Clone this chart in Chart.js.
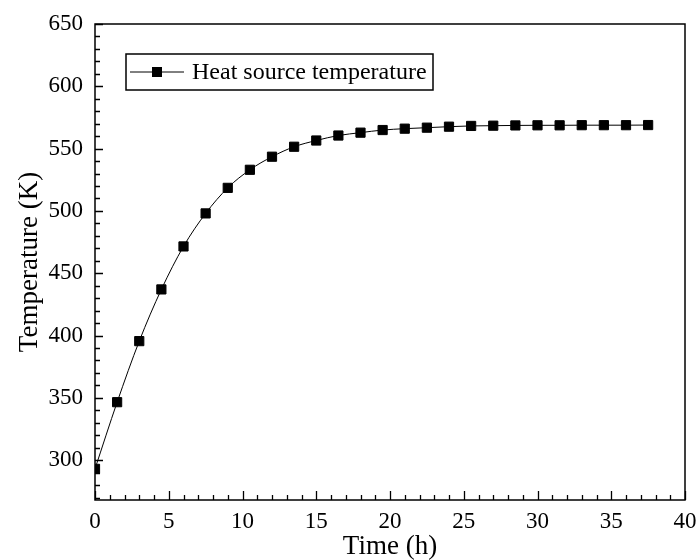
<!DOCTYPE html>
<html>
<head>
<meta charset="utf-8">
<script src="https://cdn.jsdelivr.net/npm/chart.js@4"></script>
<style>
  html, body { margin: 0; padding: 0; background: #fff; }
  #wrap { width: 697px; height: 560px; position: relative; }
</style>
</head>
<body>
<div id="wrap"><canvas id="c" width="697" height="560"></canvas></div>
<script>
const seriesLabel = 'Heat source temperature';
const timeHours = [0, 1.5, 3, 4.5, 6, 7.5, 9, 10.5, 12, 13.5, 15, 16.5, 18, 19.5, 21, 22.5, 24, 25.5, 27, 28.5, 30, 31.5, 33, 34.5, 36, 37.5];
const temperatureK = [293, 346.5, 395.5, 437, 471.5, 498, 518.5, 533, 543.5, 551.5, 556.5, 560.5, 562.8, 564.9, 566, 566.8, 567.6, 568.2, 568.4, 568.6, 568.7, 568.7, 568.8, 568.8, 568.8, 568.9];
const xTicks = [0, 5, 10, 15, 20, 25, 30, 35, 40];
const yTicks = [300, 350, 400, 450, 500, 550, 600, 650];
const xMin = 0, xMax = 40, yMin = 268, yMax = 650;
const xMinorStep = 1, yMinorStep = 10;

const FONT = "'Liberation Serif', 'Times New Roman', serif";

const frameAndTicks = {
  id: 'frameAndTicks',
  afterDatasetsDraw(chart) {
    const ctx = chart.ctx;
    const a = chart.chartArea;
    const xs = chart.scales.x, ys = chart.scales.y;
    ctx.save();
    ctx.strokeStyle = '#000';
    ctx.lineWidth = 1.5;
    ctx.strokeRect(a.left, a.top, a.right - a.left, a.bottom - a.top);
    ctx.lineWidth = 1.3;
    ctx.beginPath();
    for (let v = xMin; v <= xMax + 1e-9; v += xMinorStep) {
      const px = Math.round(xs.getPixelForValue(v)) + 0.5;
      const major = xTicks.includes(v);
      const len = major ? 9 : 5;
      ctx.moveTo(px, a.bottom);
      ctx.lineTo(px, a.bottom - len);
    }
    const yStart = Math.ceil(yMin / yMinorStep) * yMinorStep;
    for (let v = yStart; v <= yMax + 1e-9; v += yMinorStep) {
      const py = Math.round(ys.getPixelForValue(v)) + 0.5;
      const major = yTicks.includes(v);
      const len = major ? 8 : 5;
      ctx.moveTo(a.left, py);
      ctx.lineTo(a.left + len, py);
    }
    ctx.stroke();

    // legend box
    const ds = chart.data.datasets[0];
    const bx = 126, by = 54, bw = 307, bh = 36;
    ctx.fillStyle = '#fff';
    ctx.fillRect(bx, by, bw, bh);
    ctx.lineWidth = 1.5;
    ctx.strokeRect(bx, by, bw, bh);
    const cy = by + bh / 2;
    ctx.lineWidth = 1;
    ctx.beginPath();
    ctx.moveTo(bx + 4, cy);
    ctx.lineTo(bx + 58, cy);
    ctx.stroke();
    ctx.fillStyle = '#000';
    ctx.fillRect(bx + 31 - 5, cy - 5, 10, 10);
    ctx.font = "24px " + FONT;
    ctx.textBaseline = 'middle';
    ctx.textAlign = 'left';
    ctx.fillText(ds.label, bx + 66, cy + 1);
    ctx.restore();
  }
};

new Chart(document.getElementById('c'), {
  type: 'line',
  data: {
    datasets: [{
      label: seriesLabel,
      data: timeHours.map((t, i) => ({ x: t, y: temperatureK[i] })),
      borderColor: '#000',
      borderWidth: 1,
      backgroundColor: '#000',
      pointStyle: 'rect',
      pointRadius: 6.5,
      pointBorderWidth: 1,
      pointBorderColor: '#000',
      pointBackgroundColor: '#000',
      cubicInterpolationMode: 'monotone',
      clip: 0
    }]
  },
  options: {
    responsive: false,
    animation: false,
    events: [],
    layout: { padding: { left: 0, top: 24, right: 12, bottom: 0 } },
    plugins: { legend: { display: false }, tooltip: { enabled: false } },
    scales: {
      x: {
        type: 'linear',
        min: xMin, max: xMax,
        afterBuildTicks(scale) { scale.ticks = xTicks.map(v => ({ value: v })); },
        afterFit(scale) { scale.height = 60; scale.paddingLeft = 0; scale.paddingRight = 0; },
        grid: { display: false, drawTicks: false },
        border: { display: false },
        ticks: { color: '#000', font: { family: FONT, size: 23 }, padding: 8, maxRotation: 0 },
        title: { display: true, text: 'Time (h)', color: '#000', font: { family: FONT, size: 27, lineHeight: 1 }, padding: { top: 0, bottom: 0 } }
      },
      y: {
        type: 'linear',
        min: yMin, max: yMax,
        afterBuildTicks(scale) { scale.ticks = yTicks.map(v => ({ value: v })); },
        afterFit(scale) { scale.width = 95; scale.paddingTop = 0; scale.paddingBottom = 0; },
        grid: { display: false, drawTicks: false },
        border: { display: false },
        ticks: { color: '#000', font: { family: FONT, size: 23 }, padding: 12 },
        title: { display: true, text: 'Temperature (K)', color: '#000', font: { family: FONT, size: 27, lineHeight: 1 }, padding: { top: 16, bottom: 0 } }
      }
    }
  },
  plugins: [frameAndTicks]
});
</script>
</body>
</html>
